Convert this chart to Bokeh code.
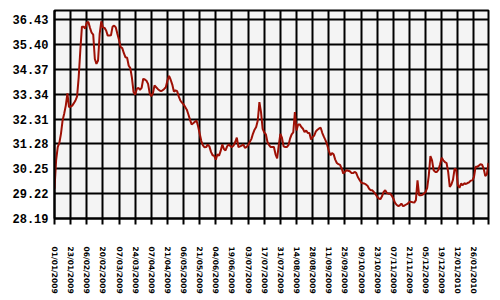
from bokeh.plotting import figure
from bokeh.models import Range1d, FixedTicker, ColumnDataSource, Label
from bokeh.embed import file_html
from bokeh.resources import INLINE

# ---- data ----
values = [
    29.43, 30.60, 31.15, 31.32, 31.70, 32.25, 32.53, 32.87, 33.38, 32.81,
    32.83, 32.87, 32.97, 33.08, 33.25, 34.05, 35.15, 36.14, 36.14, 36.06,
    36.31, 36.33, 36.09, 35.89, 35.81, 34.80, 34.60, 34.74, 35.84, 36.36,
    36.11, 36.09, 35.98, 35.77, 35.77, 35.78, 36.14, 36.18, 36.11, 35.84,
    35.59, 35.29, 35.25, 35.04, 34.87, 34.85, 34.52, 34.42, 34.02, 33.43,
    33.32, 33.56, 33.60, 33.52, 33.60, 33.98, 33.95, 33.90, 33.77, 33.38,
    33.25, 33.38, 33.70, 33.63, 33.56, 33.50, 33.47, 33.50, 33.56, 33.63,
    33.91, 34.10, 33.94, 33.74, 33.45, 33.50, 33.47, 33.25, 33.08, 32.99,
    32.92, 32.81, 32.70, 32.50, 32.28, 32.09, 32.14, 32.20, 32.25, 32.01,
    31.70, 31.40, 31.22, 31.14, 31.15, 31.25, 31.18, 30.95, 30.81, 30.79,
    30.63, 30.85, 30.79, 30.99, 31.26, 31.07, 31.01, 31.18, 31.26, 31.19,
    31.15, 31.21, 31.36, 31.54, 31.15, 31.18, 31.21, 31.26, 31.12, 31.15,
    31.23, 31.36, 31.48, 31.70, 31.87, 31.98, 32.25, 33.01, 32.60, 31.91,
    31.76, 31.68, 31.36, 31.23, 31.15, 31.15, 31.15, 30.85, 30.68, 31.22,
    31.70, 31.53, 31.18, 31.15, 31.15, 31.23, 31.50, 31.68, 31.76, 32.60,
    31.84, 32.09, 32.09, 31.98, 31.91, 31.77, 31.84, 31.73, 31.73, 31.46,
    31.57, 31.63, 31.80, 31.87, 31.92, 31.95, 31.73, 31.57, 31.43, 31.25,
    31.01, 30.81, 30.90, 30.85, 30.63, 30.49, 30.44, 30.41, 30.26, 30.05,
    30.12, 30.19, 30.17, 30.15, 30.08, 30.07, 30.12, 30.08, 29.91, 29.80,
    29.69, 29.65, 29.64, 29.60, 29.55, 29.42, 29.36, 29.36, 29.28, 29.20,
    29.09, 29.02, 28.99, 29.11, 29.29, 29.36, 29.25, 29.22, 29.23, 29.14,
    29.02, 28.85, 28.76, 28.71, 28.73, 28.81, 28.70, 28.73, 28.77, 28.81,
    28.88, 28.88, 28.86, 28.85, 28.95, 29.77, 29.15, 29.15, 29.17, 29.22,
    29.29, 29.46, 29.98, 30.78, 30.60, 30.19, 30.12, 30.12, 30.21, 30.44,
    30.71, 30.60, 30.53, 30.49, 30.12, 29.50, 29.60, 29.80, 30.26, 30.22,
    29.57, 29.46, 29.64, 29.57, 29.65, 29.62, 29.66, 29.69, 29.76, 29.77,
    29.91, 30.33, 30.33, 30.38, 30.44, 30.42, 30.26, 29.95, 30.02, 30.49,
]
x_labels = [
    "01/01/2009", "23/01/2009", "06/02/2009", "20/02/2009", "07/03/2009",
    "24/03/2009", "07/04/2009", "21/04/2009", "06/05/2009", "21/05/2009",
    "04/06/2009", "19/06/2009", "03/07/2009", "17/07/2009", "31/07/2009",
    "14/08/2009", "28/08/2009", "11/09/2009", "25/09/2009", "09/10/2009",
    "23/10/2009", "07/11/2009", "21/11/2009", "05/12/2009", "19/12/2009",
    "12/01/2010", "26/01/2010",
]
label_step = 10
y_ticks = [28.19, 29.22, 30.25, 31.28, 32.31, 33.34, 34.37, 35.40, 36.43]

idx = list(range(len(values)))
x_tick_pos = [i * label_step for i in range(len(x_labels))]
n_last = len(values) - 1

src = ColumnDataSource(data=dict(x=idx, y=values))

p = figure(width=500, height=300, output_backend="svg", toolbar_location=None,
           x_range=Range1d(0, n_last), y_range=Range1d(28.19, 36.81),
           min_border_left=54, min_border_right=12, min_border_top=10,
           min_border_bottom=82)
p.background_fill_color = "#F4F4F4"
p.border_fill_color = "white"
p.outline_line_color = "black"
p.outline_line_width = 2

p.line("x", "y", source=src, line_color="#9E1005", line_width=2)

# axes
p.yaxis.ticker = FixedTicker(ticks=y_ticks)
p.yaxis.major_label_overrides = {t: "%.2f" % t for t in y_ticks}
p.yaxis.major_label_text_font = "Liberation Mono"
p.yaxis.major_label_text_font_style = "bold"
p.yaxis.major_label_text_font_size = "12px"
p.yaxis.major_label_text_color = "black"
p.yaxis.major_label_standoff = 6
p.yaxis.major_tick_out = 0
p.yaxis.major_tick_in = 0
p.yaxis.minor_tick_line_color = None
p.yaxis.axis_line_color = "black"
p.yaxis.axis_line_width = 2

p.xaxis.ticker = FixedTicker(ticks=x_tick_pos + [n_last])
overrides = {pos: lab for pos, lab in zip(x_tick_pos, x_labels)}
overrides[n_last] = ""
p.xaxis.major_label_overrides = overrides
p.xaxis.major_label_orientation = "vertical"
p.xaxis.major_label_text_font = "DejaVu Sans"
p.xaxis.major_label_text_font_style = "bold"
p.xaxis.major_label_text_font_size = "7.5px"
p.xaxis.major_label_text_color = "black"
p.xaxis.major_label_standoff = 22
p.xaxis.major_tick_out = 6
p.xaxis.major_tick_in = 0
p.xaxis.major_tick_line_width = 2
p.xaxis.major_tick_line_color = "black"
p.xaxis.minor_tick_line_color = None
p.xaxis.axis_line_color = "black"
p.xaxis.axis_line_width = 2

p.xgrid.ticker = FixedTicker(ticks=x_tick_pos)
p.ygrid.ticker = FixedTicker(ticks=y_ticks)
p.grid.grid_line_color = "black"
p.grid.grid_line_width = 2
p.grid.grid_line_alpha = 1.0

# top frame line extending over the tick-label column
p.add_layout(Label(x=-45, y=208, x_units="screen", y_units="screen",
                   text=" ", text_font_size="1px", anchor="center_left",
                   background_fill_color="black", padding=(23, 1)))

open("out.html", "w").write(file_html(p, INLINE))
